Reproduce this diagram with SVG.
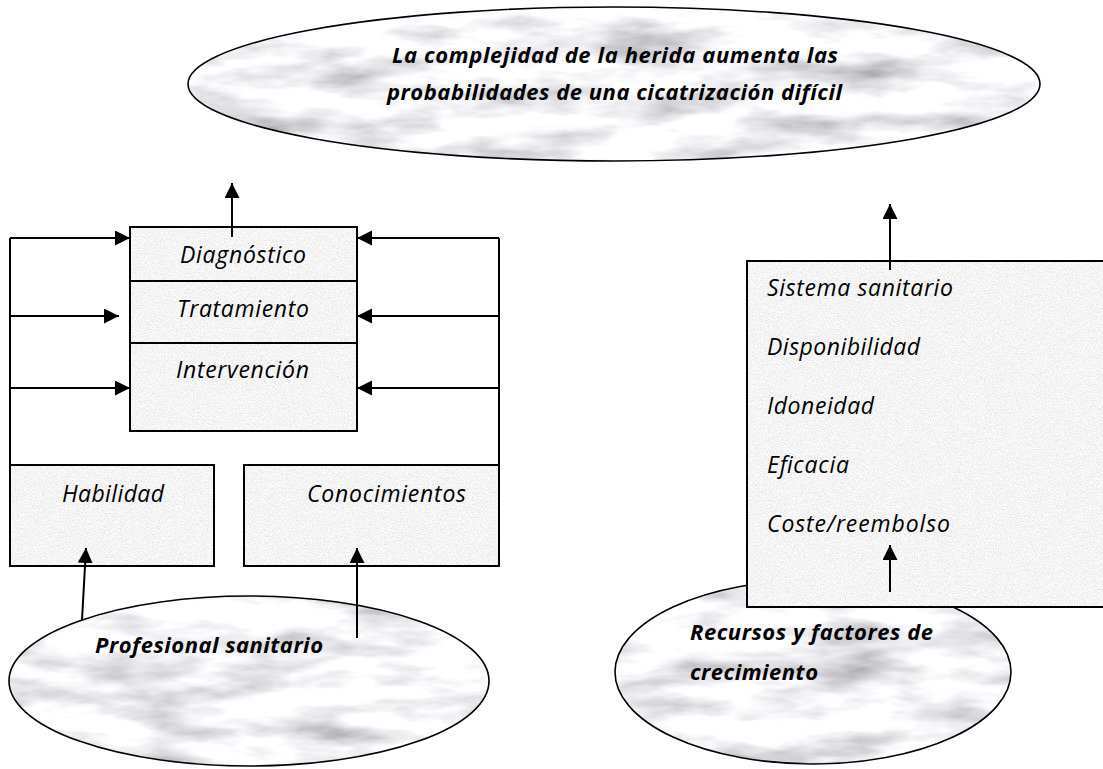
<svg xmlns="http://www.w3.org/2000/svg" width="1103" height="769" viewBox="0 0 1103 769">
<style>
  .t { font-family: "Open Sans", "Noto Sans", "DejaVu Sans", sans-serif; font-style: italic; font-size: 23px; fill: #000; }
  .b { font-family: "Open Sans", "Noto Sans", "DejaVu Sans", sans-serif; font-style: italic; font-weight: bold; font-size: 22px; fill: #000; }
  .edge { fill: none; stroke: #000; stroke-width: 2; }
  .oval { fill: none; stroke: #000; stroke-width: 1.6; }
  .conn { fill: none; stroke: #000; stroke-width: 2; }
</style>
<defs>
  <filter id="granite" x="0" y="0" width="1" height="1">
    <feTurbulence type="fractalNoise" baseFrequency="0.75" numOctaves="3" seed="7" result="n"/>
    <feColorMatrix in="n" type="matrix" values="0.5 0 0 0 0.66  0.5 0 0 0 0.66  0.5 0 0 0 0.67  0 0 0 0 1" result="c"/>
    <feComposite in="c" in2="SourceGraphic" operator="in"/>
  </filter>
  <filter id="marble" x="0" y="0" width="1" height="1">
    <feTurbulence type="fractalNoise" baseFrequency="0.01 0.035" numOctaves="4" seed="11" result="n"/>
    <feColorMatrix in="n" type="matrix" values="1.2 0 0 0 0.3  1.2 0 0 0 0.3  1.2 0 0 0 0.33  0 0 0 0 1" result="c"/>
    <feComposite in="c" in2="SourceGraphic" operator="in"/>
  </filter>
  <marker id="ah" markerUnits="userSpaceOnUse" markerWidth="16" markerHeight="16" refX="15" refY="7.5" orient="auto">
    <path d="M0,0 L15,7.5 L0,15 Z" fill="#000"/>
  </marker>
</defs>

<g id="node-complejidad">
  <ellipse cx="614" cy="84" rx="426" ry="77" fill="#ddd" filter="url(#marble)"/>
  <ellipse class="oval" cx="614" cy="84" rx="426" ry="77"/>
  <text class="b" x="392" y="63" textLength="446" lengthAdjust="spacing">La complejidad de la herida aumenta las</text>
  <text class="b" x="387" y="100" textLength="455" lengthAdjust="spacing">probabilidades de una cicatrización difícil</text>
</g>

<g id="node-recursos">
  <ellipse cx="813" cy="672" rx="198" ry="92" fill="#ddd" filter="url(#marble)"/>
  <ellipse class="oval" cx="813" cy="672" rx="198" ry="92"/>
  <text class="b" x="690" y="640" textLength="243" lengthAdjust="spacing">Recursos y factores de</text>
  <text class="b" x="690" y="680" textLength="128" lengthAdjust="spacing">crecimiento</text>
</g>

<g id="node-sistema">
  <rect x="747" y="261" width="362" height="346" fill="#ddd" filter="url(#granite)"/>
  <rect class="edge" x="747" y="261" width="362" height="346"/>
  <text class="t" x="767" y="296" textLength="186" lengthAdjust="spacing">Sistema sanitario</text>
  <text class="t" x="767" y="355" textLength="153" lengthAdjust="spacing">Disponibilidad</text>
  <text class="t" x="767" y="414" textLength="107" lengthAdjust="spacing">Idoneidad</text>
  <text class="t" x="767" y="473" textLength="82" lengthAdjust="spacing">Eficacia</text>
  <text class="t" x="767" y="532" textLength="183" lengthAdjust="spacing">Coste/reembolso</text>
</g>

<g id="node-diagnostico">
  <rect x="130" y="227" width="227" height="54" fill="#ddd" filter="url(#granite)"/>
  <rect class="edge" x="130" y="227" width="227" height="54"/>
  <text class="t" x="180" y="263" textLength="126" lengthAdjust="spacing">Diagnóstico</text>
</g>
<g id="node-tratamiento">
  <rect x="130" y="281" width="227" height="62" fill="#ddd" filter="url(#granite)"/>
  <rect class="edge" x="130" y="281" width="227" height="62"/>
  <text class="t" x="177" y="317" textLength="132" lengthAdjust="spacing">Tratamiento</text>
</g>
<g id="node-intervencion">
  <rect x="130" y="343" width="227" height="88" fill="#ddd" filter="url(#granite)"/>
  <rect class="edge" x="130" y="343" width="227" height="88"/>
  <text class="t" x="176" y="378" textLength="133" lengthAdjust="spacing">Intervención</text>
</g>

<g id="node-habilidad">
  <rect x="10" y="465" width="204" height="101" fill="#ddd" filter="url(#granite)"/>
  <rect class="edge" x="10" y="465" width="204" height="101"/>
  <text class="t" x="62" y="502" textLength="102" lengthAdjust="spacing">Habilidad</text>
</g>
<g id="node-conocimientos">
  <rect x="244" y="465" width="255" height="101" fill="#ddd" filter="url(#granite)"/>
  <rect class="edge" x="244" y="465" width="255" height="101"/>
  <text class="t" x="307" y="502" textLength="159" lengthAdjust="spacing">Conocimientos</text>
</g>

<g id="node-profesional">
  <ellipse cx="249" cy="681" rx="240" ry="85" fill="#ddd" filter="url(#marble)"/>
  <ellipse class="oval" cx="249" cy="681" rx="240" ry="85"/>
  <text class="b" x="95" y="653" textLength="228" lengthAdjust="spacing">Profesional sanitario</text>
</g>

<g id="connectors" class="conn">
  <path class="conn" d="M10,465 V238"/>
  <path class="conn" d="M499,465 V238"/>
  <line x1="10" y1="238" x2="130" y2="238" marker-end="url(#ah)"/>
  <line x1="10" y1="316" x2="119" y2="316" marker-end="url(#ah)"/>
  <line x1="10" y1="388" x2="130" y2="388" marker-end="url(#ah)"/>
  <line x1="499" y1="238" x2="357" y2="238" marker-end="url(#ah)"/>
  <line x1="499" y1="316" x2="357" y2="316" marker-end="url(#ah)"/>
  <line x1="499" y1="388" x2="357" y2="388" marker-end="url(#ah)"/>
  <line x1="232" y1="237" x2="232" y2="183" marker-end="url(#ah)"/>
  <line x1="82" y1="620" x2="86" y2="548" marker-end="url(#ah)"/>
  <line x1="357" y1="638" x2="357" y2="548" marker-end="url(#ah)"/>
  <line x1="890" y1="270" x2="890" y2="204" marker-end="url(#ah)"/>
  <line x1="890" y1="592" x2="890" y2="545" marker-end="url(#ah)"/>
</g>
</svg>
